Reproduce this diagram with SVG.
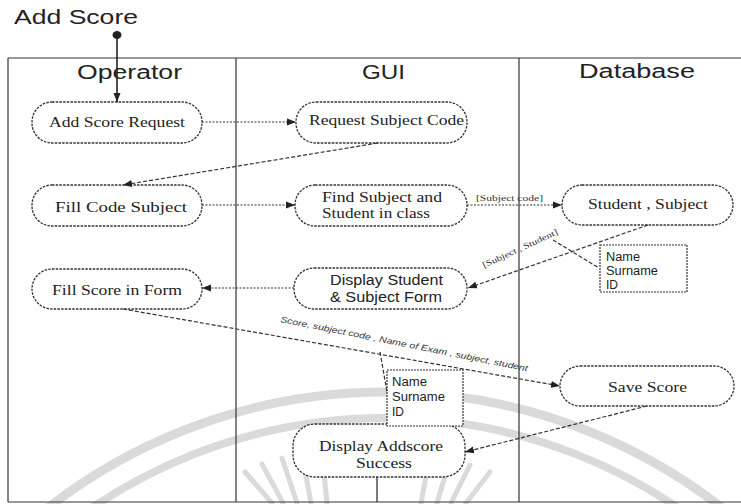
<svg xmlns="http://www.w3.org/2000/svg" width="741" height="504" viewBox="0 0 741 504">
<defs>
<marker id="arr" markerUnits="userSpaceOnUse" markerWidth="10" markerHeight="8" refX="9" refY="4" orient="auto">
<path d="M0,0.5 L9,4 L0,7.5 Z" fill="#222"/>
</marker>
<style>
.frame{stroke:#333;stroke-width:1.2;fill:none}
.node{fill:#fff;stroke:#333;stroke-width:1.3;stroke-dasharray:2.5 1.2}
.note{fill:#fff;stroke:#333;stroke-width:1.2;stroke-dasharray:2 1}
.ser{font-family:"Liberation Serif","Times New Roman",serif;font-size:15px;fill:#222}
.sans{font-family:"Liberation Sans",Arial,sans-serif;fill:#222}
.lane{font-family:"Liberation Sans",Arial,sans-serif;font-size:20px;fill:#222}
.ntxt{font-family:"Liberation Sans",Arial,sans-serif;font-size:12px;fill:#222}
.dot{stroke:#333;stroke-width:1.2;fill:none;stroke-dasharray:2 1.5}
.dash{stroke:#333;stroke-width:1.2;fill:none;stroke-dasharray:4 2}
.lbl{font-family:"Liberation Serif","Times New Roman",serif;font-size:8.5px;fill:#333}
.ilbl{font-family:"Liberation Sans",Arial,sans-serif;font-size:8.5px;font-style:italic;fill:#333}
.wm{stroke:#dadada;fill:none}
</style>
</defs>
<rect width="741" height="504" fill="#fff"/>
<g id="watermark">
<circle class="wm" cx="385" cy="940" r="548" stroke-width="9"/>
<circle class="wm" cx="385" cy="940" r="522" stroke-width="8"/>
<g stroke-width="5" stroke-linecap="round" class="wm">
<path d="M245,472 L272,503 M262,464 L283,503 M282,458 L297,503 M302,455 L311,503 M322,453 L327,503 M430,455 L421,503 M450,459 L437,503 M470,465 L451,503 M490,472 L466,503"/>
</g>
</g>
<text x="14" y="24" class="sans" font-size="21" textLength="124" lengthAdjust="spacingAndGlyphs">Add Score</text>
<g id="swimlanes">
<path class="frame" d="M8,58 L741,58 M8,58 L8,502 M8,502 L741,502 M236,58 L236,502 M519,58 L519,502"/>
<text x="77" y="79" class="lane" textLength="105" lengthAdjust="spacingAndGlyphs">Operator</text>
<text x="362" y="79" class="lane" textLength="43" lengthAdjust="spacingAndGlyphs">GUI</text>
<text x="579" y="78" class="lane" textLength="116" lengthAdjust="spacingAndGlyphs">Database</text>
</g>
<g id="start">
<ellipse cx="117" cy="35" rx="4.5" ry="4" fill="#222"/>
</g>
<g id="n1"><rect class="node" x="32" y="102" width="170" height="41" rx="20" ry="20"/>
<text class="ser" x="49" y="127" textLength="136" lengthAdjust="spacingAndGlyphs">Add Score Request</text></g>
<g id="n2"><rect class="node" x="296" y="102" width="171" height="41" rx="20" ry="20"/>
<text class="ser" x="309" y="125" textLength="155" lengthAdjust="spacingAndGlyphs">Request Subject Code</text></g>
<g id="n3"><rect class="node" x="32" y="185" width="170" height="41" rx="20" ry="20"/>
<text class="ser" x="55" y="212" textLength="132" lengthAdjust="spacingAndGlyphs">Fill Code Subject</text></g>
<g id="n4"><rect class="node" x="295" y="185" width="172" height="41" rx="20" ry="20"/>
<text class="ser" font-size="14" x="322" y="202" textLength="120" lengthAdjust="spacingAndGlyphs">Find Subject and</text>
<text class="ser" font-size="14" x="322" y="218" textLength="108" lengthAdjust="spacingAndGlyphs">Student in class</text></g>
<g id="n5"><rect class="node" x="562" y="185" width="171" height="40" rx="20" ry="20"/>
<text class="ser" x="588" y="209" textLength="120" lengthAdjust="spacingAndGlyphs">Student , Subject</text></g>
<g id="n6"><rect class="node" x="32" y="269" width="170" height="40" rx="20" ry="20"/>
<text class="ser" x="52" y="295" textLength="130" lengthAdjust="spacingAndGlyphs">Fill Score in Form</text></g>
<g id="n7"><rect class="node" x="294" y="268" width="173" height="41" rx="20" ry="20"/>
<text class="sans" font-size="14" x="330" y="285" textLength="113" lengthAdjust="spacingAndGlyphs">Display Student</text>
<text class="sans" font-size="14" x="330" y="302" textLength="112" lengthAdjust="spacingAndGlyphs">&amp; Subject Form</text></g>
<g id="n8"><rect class="node" x="560" y="366" width="174" height="40" rx="20" ry="20"/>
<text class="ser" x="608" y="392" textLength="79" lengthAdjust="spacingAndGlyphs">Save Score</text></g>
<g id="n9"><rect class="node" x="293" y="424" width="172" height="53" rx="22" ry="22"/>
<text class="ser" x="319" y="451" textLength="124" lengthAdjust="spacingAndGlyphs">Display Addscore</text>
<text class="ser" x="356" y="468" textLength="56" lengthAdjust="spacingAndGlyphs">Success</text></g>
<g id="note1"><rect class="note" x="600" y="245" width="87" height="47"/>
<text class="ntxt" x="606" y="261" textLength="34" lengthAdjust="spacingAndGlyphs">Name</text>
<text class="ntxt" x="606" y="275" textLength="52" lengthAdjust="spacingAndGlyphs">Surname</text>
<text class="ntxt" x="606" y="289">ID</text></g>
<g id="note2"><rect class="note" x="387" y="370" width="76" height="56"/>
<text class="ntxt" x="392" y="386" textLength="35" lengthAdjust="spacingAndGlyphs">Name</text>
<text class="ntxt" x="392" y="401" textLength="53" lengthAdjust="spacingAndGlyphs">Surname</text>
<text class="ntxt" x="392" y="416">ID</text></g>
<g id="connectors">
<path d="M117,39 L117,102" stroke="#222" stroke-width="1.6" fill="none" marker-end="url(#arr)"/>
<path class="dot" d="M202,122 L296,122" marker-end="url(#arr)"/>
<path class="dash" d="M378,143 L123,185" marker-end="url(#arr)"/>
<path class="dot" d="M202,205 L295,205" marker-end="url(#arr)"/>
<path class="dot" d="M467,205 L562,205" marker-end="url(#arr)"/>
<text class="lbl" x="476" y="201" textLength="67" lengthAdjust="spacingAndGlyphs">[Subject code]</text>
<path class="dash" d="M648,225 L468,288" marker-end="url(#arr)"/>
<text class="lbl" transform="translate(484,268) rotate(-24.5)" textLength="82" lengthAdjust="spacingAndGlyphs">[Subject , Student]</text>
<path class="dash" d="M553,240 L599,268" stroke-dasharray="6 4"/>
<path class="dot" d="M294,288 L202,288" marker-end="url(#arr)"/>
<path class="dash" d="M123,309 L560,386" marker-end="url(#arr)"/>
<text class="ilbl" transform="translate(280,322) rotate(11.3)" textLength="252" lengthAdjust="spacingAndGlyphs">Score, subject code , Name of Exam , subject, student</text>
<path class="dash" d="M380,352 L387,392" stroke-dasharray="4 3"/>
<path class="dash" d="M647,406 L465,452" marker-end="url(#arr)"/>
<path d="M377,477 L377,502" stroke="#222" stroke-width="1.2" fill="none"/>
</g>
</svg>
